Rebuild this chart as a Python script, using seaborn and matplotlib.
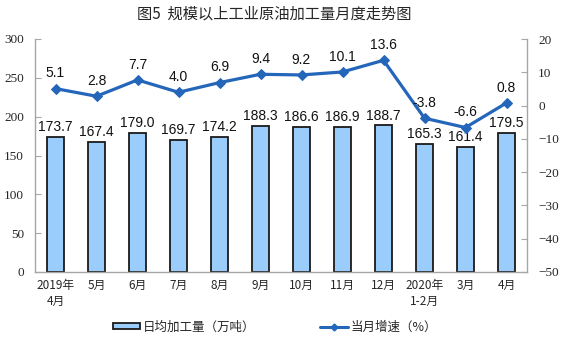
import matplotlib
matplotlib.use("Agg")
import matplotlib.pyplot as plt
import seaborn as sns
import pandas as pd
from matplotlib.ticker import MultipleLocator, FixedLocator
from matplotlib.lines import Line2D
from matplotlib.patches import Patch

categories = ["2019年\n4月", "5月", "6月", "7月", "8月", "9月", "10月", "11月", "12月", "2020年\n1-2月", "3月", "4月"]
daily_output = [173.7, 167.4, 179.0, 169.7, 174.2, 188.3, 186.6, 186.9, 188.7, 165.3, 161.4, 179.5]
growth = [5.1, 2.8, 7.7, 4.0, 6.9, 9.4, 9.2, 10.1, 13.6, -3.8, -6.6, 0.8]

title = "图5  规模以上工业原油加工量月度走势图"
bar_label_name = "日均加工量（万吨）"
line_label_name = "当月增速（%）"

df = pd.DataFrame({"month": categories, "output": daily_output, "growth": growth})

sns.set_style("white")
plt.rcParams['font.family'] = ['Noto Sans CJK SC', 'DejaVu Sans']

BAR_COLOR = "#9ACCFC"
LINE_COLOR = "#2466B9"
SPINE_COLOR = "#A6A6A6"

fig = plt.figure(figsize=(5.61, 3.57), dpi=100)
ax = fig.add_axes([35/561, 1 - 272/357, (527-35)/561, (272-39)/357])

sns.barplot(data=df, x="month", y="output", ax=ax, color=BAR_COLOR,
            edgecolor="#1a1a1a", linewidth=1.3, width=0.42, saturation=1, zorder=2)
ax.set_ylim(0, 300)
ax.set_xlim(-0.5, len(categories) - 0.5)
ax.yaxis.set_major_locator(MultipleLocator(50))
ax.set_xlabel("")
ax.set_ylabel("")

for c in ax.containers:
    ax.bar_label(c, labels=[f"{v:.1f}" for v in daily_output], padding=2,
                 fontsize=10, family="Liberation Sans", color="#111111")

ax2 = ax.twinx()
sns.lineplot(data=df, x="month", y="growth", ax=ax2, color=LINE_COLOR, linewidth=2.3,
             marker="D", markersize=5.5, markeredgecolor=LINE_COLOR, sort=False, zorder=3)
ax2.set_ylim(-50, 20)
ax2.yaxis.set_major_locator(MultipleLocator(10))
ax2.set_ylabel("")
ax2.set_xlabel("")
ax2.set_xlim(-0.5, len(categories) - 0.5)

for i, v in enumerate(growth):
    ax2.annotate(f"{v:.1f}", (i, v), xytext=(0, 6), textcoords="offset points",
                 ha="center", va="bottom", fontsize=10, family="Liberation Sans", color="#111111")

# spines and ticks
for a in (ax, ax2):
    a.spines["top"].set_visible(False)
ax.spines["right"].set_visible(False)
ax2.spines["left"].set_visible(False)
ax2.spines["bottom"].set_visible(False)
ax.spines["left"].set_color(SPINE_COLOR)
ax.spines["bottom"].set_color(SPINE_COLOR)
ax2.spines["right"].set_color(SPINE_COLOR)
for s in ("left", "bottom"):
    ax.spines[s].set_linewidth(1.0)
ax2.spines["right"].set_linewidth(1.0)

ax.tick_params(axis="y", direction="in", length=4, color=SPINE_COLOR, labelsize=9.5, pad=8,
               labelfontfamily="Liberation Serif")
ax2.tick_params(axis="y", direction="in", length=4, color=SPINE_COLOR, labelsize=9.5, pad=8,
                labelfontfamily="Liberation Serif")

ax.set_xticks(range(len(categories)))
ax.set_xticklabels(categories, fontsize=8.5, linespacing=1.3)
ax.tick_params(axis="x", which="major", length=0, pad=5)
ax.xaxis.set_minor_locator(FixedLocator([i + 0.5 for i in range(-1, len(categories))]))
ax.tick_params(axis="x", which="minor", direction="in", length=4, color=SPINE_COLOR)

fig.suptitle(title, y=0.985, fontsize=11, x=0.488)

handles = [Patch(facecolor=BAR_COLOR, edgecolor="#1a1a1a", linewidth=1.3),
           Line2D([0], [0], color=LINE_COLOR, linewidth=2.2, marker="D", markersize=3.5)]
fig.legend(handles, [bar_label_name, line_label_name], loc="center",
           bbox_to_anchor=(0.49, 1 - 327/357), ncol=2, frameon=False, fontsize=9,
           handlelength=2.2, handleheight=0.4, columnspacing=5.2, handletextpad=0.2)

fig.savefig("out.png", dpi=100)
